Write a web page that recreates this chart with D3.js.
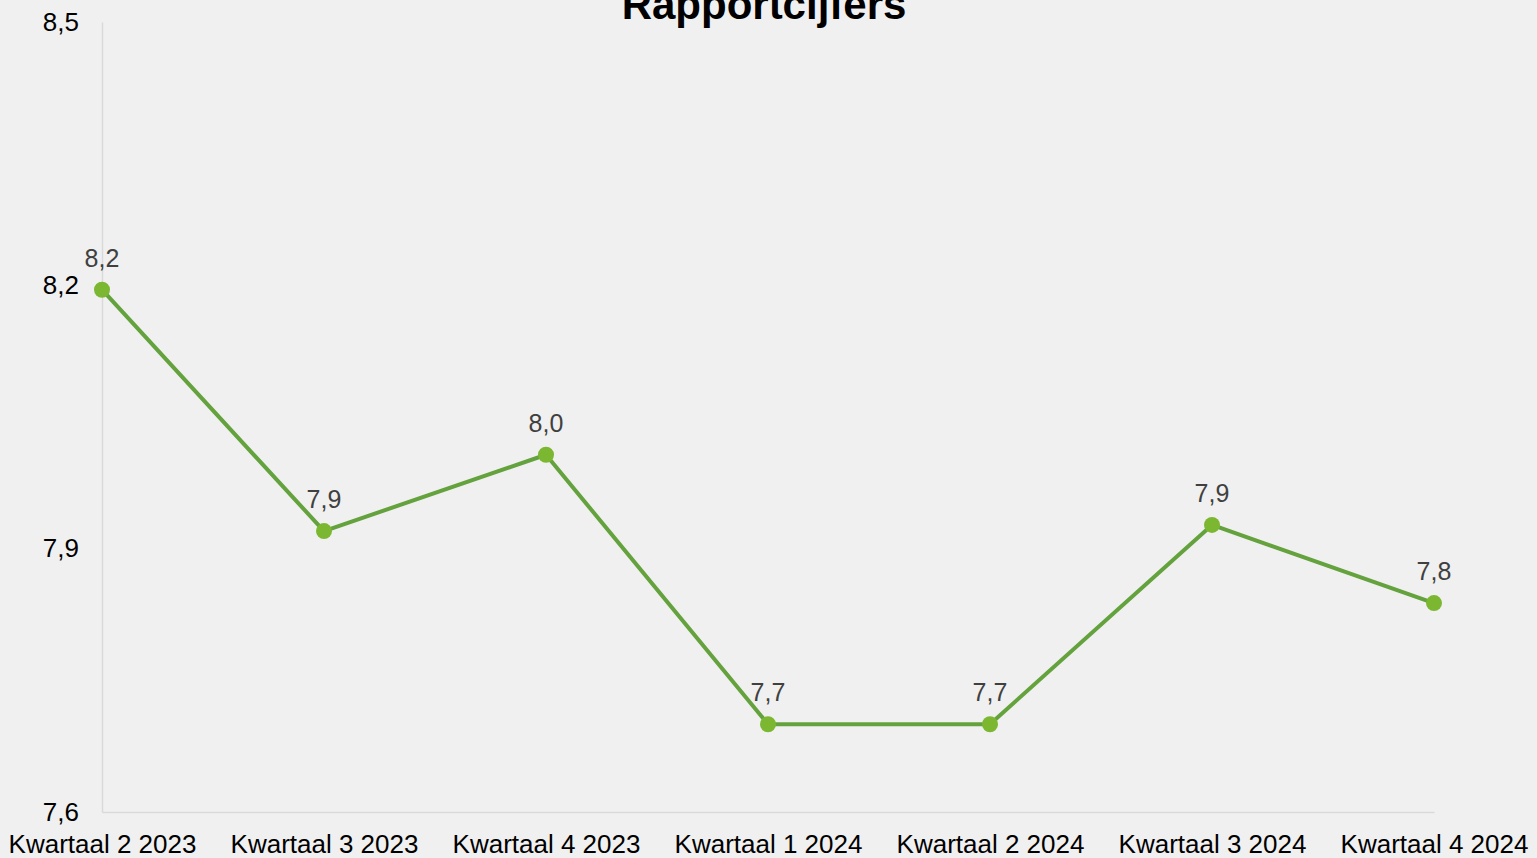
<!DOCTYPE html>
<html>
<head>
<meta charset="utf-8">
<script src="https://cdn.jsdelivr.net/npm/d3@7"></script>
<style>
  html, body { margin: 0; padding: 0; background: #f0f0f0; }
  svg { display: block; }
</style>
</head>
<body>
<svg id="chart" width="1537" height="858"></svg>
<script>
// Quarterly report grades
const categories = ["Kwartaal 2 2023", "Kwartaal 3 2023", "Kwartaal 4 2023", "Kwartaal 1 2024", "Kwartaal 2 2024", "Kwartaal 3 2024", "Kwartaal 4 2024"];
const grades = [8.195, 7.92, 8.007, 7.70, 7.70, 7.927, 7.838];
const yTicks = [7.6, 7.9, 8.2, 8.5];
const titleText = "Rapportcijfers";

(function () {
  const svg = d3.select("#chart");
  const W = 1537, H = 858;
  const plotLeft = 102, plotRight = 1434, plotTop = 22, plotBottom = 812;

  svg.append("rect").attr("width", W).attr("height", H).attr("fill", "#f0f0f0");

  const x = d3.scalePoint().domain(categories).range([plotLeft, plotRight]).padding(0);
  const y = d3.scaleLinear().domain([7.6, 8.5]).range([plotBottom, plotTop]);
  const fmt = v => d3.format(".1f")(v).replace(".", ",");
  const font = "'Liberation Sans', Arial, sans-serif";

  // Axes
  const yAxis = svg.append("g").attr("transform", `translate(${plotLeft},0)`)
    .call(d3.axisLeft(y).tickValues(yTicks).tickSize(0).tickPadding(23).tickFormat(fmt));
  yAxis.select(".domain").attr("stroke", "#d9d9d9").attr("stroke-width", 1.5);
  yAxis.selectAll("text").attr("font-family", font).attr("font-size", 26).attr("fill", "#000");

  const xAxis = svg.append("g").attr("transform", `translate(0,${plotBottom})`)
    .call(d3.axisBottom(x).tickSize(0).tickPadding(0));
  xAxis.select(".domain").attr("stroke", "#d9d9d9").attr("stroke-width", 1.5);
  xAxis.selectAll("text").attr("font-family", font).attr("font-size", 26).attr("fill", "#000")
    .attr("dy", null).attr("y", 41);

  // Line
  const line = d3.line().x((d, i) => x(categories[i])).y(d => y(d));
  svg.append("path").datum(grades).attr("d", line)
    .attr("fill", "none").attr("stroke", "#64a23d").attr("stroke-width", 4)
    .attr("stroke-linejoin", "round");

  // Markers
  svg.selectAll("circle.pt").data(grades).enter().append("circle")
    .attr("class", "pt")
    .attr("cx", (d, i) => x(categories[i])).attr("cy", d => y(d))
    .attr("r", 8).attr("fill", "#7cb732");

  // Value labels
  svg.selectAll("text.val").data(grades).enter().append("text")
    .attr("class", "val")
    .attr("x", (d, i) => x(categories[i])).attr("y", d => y(d) - 23)
    .attr("text-anchor", "middle")
    .attr("font-family", font).attr("font-size", 25).attr("fill", "#404040")
    .text(fmt);

  // Title
  svg.append("text").attr("x", 764).attr("y", 19).attr("text-anchor", "middle")
    .attr("font-family", font).attr("font-size", 42).attr("font-weight", "bold").attr("fill", "#000")
    .text(titleText);
})();
</script>
</body>
</html>
